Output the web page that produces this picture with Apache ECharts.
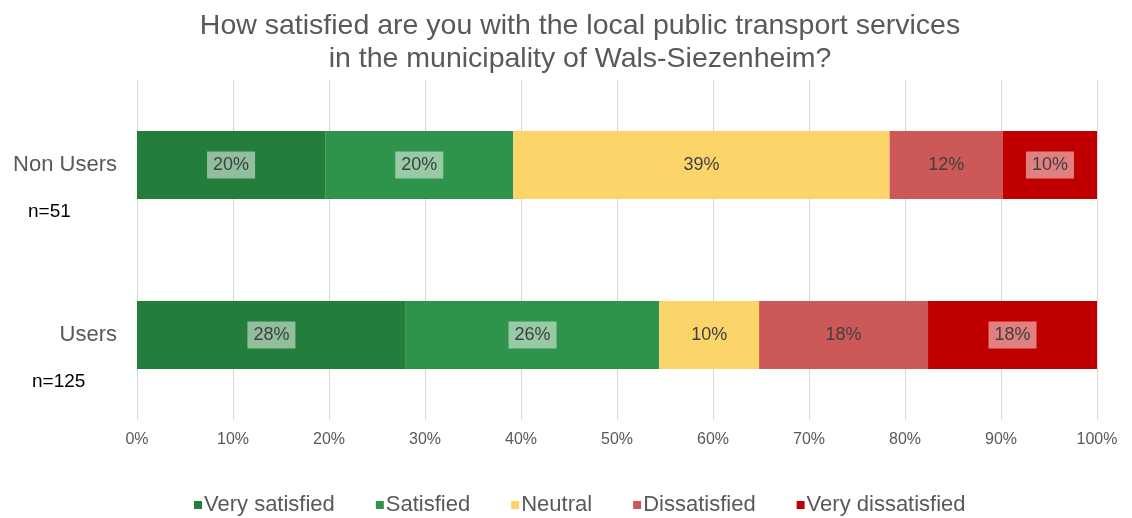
<!DOCTYPE html>
<html><head><meta charset="utf-8">
<script src="https://cdn.jsdelivr.net/npm/echarts@6/dist/echarts.min.js"></script>
<style>html,body{margin:0;padding:0;background:#fff}#c{width:1132px;height:518px}</style>
</head><body><div id="c"></div>
<script>
const categories = ['Non Users', 'Users'];
const sampleSizes = ['n=51', 'n=125'];
const seriesNames = ['Very satisfied', 'Satisfied', 'Neutral', 'Dissatisfied', 'Very dissatisfied'];
const verySatisfied = [19.6, 28.0];
const satisfied = [19.6, 26.4];
const neutral = [39.2, 10.4];
const dissatisfied = [11.8, 17.6];
const veryDissatisfied = [9.8, 17.6];
const xTicks = [0, 10, 20, 30, 40, 50, 60, 70, 80, 90, 100];

const colors = ['#237d3b', '#2e944b', '#fcd56a', '#cd5858', '#c00000'];
const boxed = [true, true, false, false, true];
const values = [verySatisfied, satisfied, neutral, dissatisfied, veryDissatisfied];

const chart = echarts.init(document.getElementById('c'));
const font = '"Liberation Sans", Arial, sans-serif';
chart.setOption({
  animation: false,
  textStyle: { fontFamily: font },
  title: {
    text: 'How satisfied are you with the local public transport services\nin the municipality of Wals-Siezenheim?',
    left: 575, top: 5, textAlign: 'center',
    textStyle: { fontFamily: font, fontSize: 28.5, fontWeight: 'normal', color: '#595959', lineHeight: 33 }
  },
  legend: {
    bottom: -3, left: 189, itemWidth: 8, itemHeight: 8, itemGap: 41,
    icon: 'rect',
    textStyle: { fontFamily: font, fontSize: 22, color: '#595959', padding: [0, 0, 0, -3] },
    data: seriesNames
  },
  grid: { left: 137, right: 35, top: 80, bottom: 98 },
  xAxis: {
    type: 'value', min: 0, max: 100, interval: 10,
    axisLine: { show: false }, axisTick: { show: false },
    splitLine: { lineStyle: { color: '#d9d9d9', width: 1 } },
    axisLabel: { formatter: v => xTicks.includes(v) ? v + '%' : '', fontSize: 16, color: '#595959', margin: 12, fontFamily: font }
  },
  yAxis: {
    type: 'category', data: categories, inverse: true,
    axisLine: { show: false }, axisTick: { show: false },
    axisLabel: { fontSize: 22, color: '#595959', margin: 20, fontFamily: font }
  },
  series: seriesNames.map((name, i) => ({
    name, type: 'bar', stack: 'total', barWidth: 68,
    itemStyle: { color: colors[i] },
    data: values[i],
    label: {
      show: true, position: 'inside', fontSize: 18, color: '#404040', fontFamily: font,
      formatter: p => Math.round(p.value) + '%',
      backgroundColor: boxed[i] ? 'rgba(255,255,255,0.5)' : 'transparent',
      padding: [5, 6, 4, 6]
    }
  }))
});

// sample size annotations placed relative to category positions
const ann = categories.map((c, i) => {
  const p = chart.convertToPixel({ gridIndex: 0 }, [0, i]);
  return {
    type: 'text', left: i === 0 ? 28 : 32, top: p[1] + 37,
    style: { text: sampleSizes[i], fontSize: 19, fill: '#000', fontFamily: font }
  };
});
chart.setOption({ graphic: ann });
</script></body></html>
